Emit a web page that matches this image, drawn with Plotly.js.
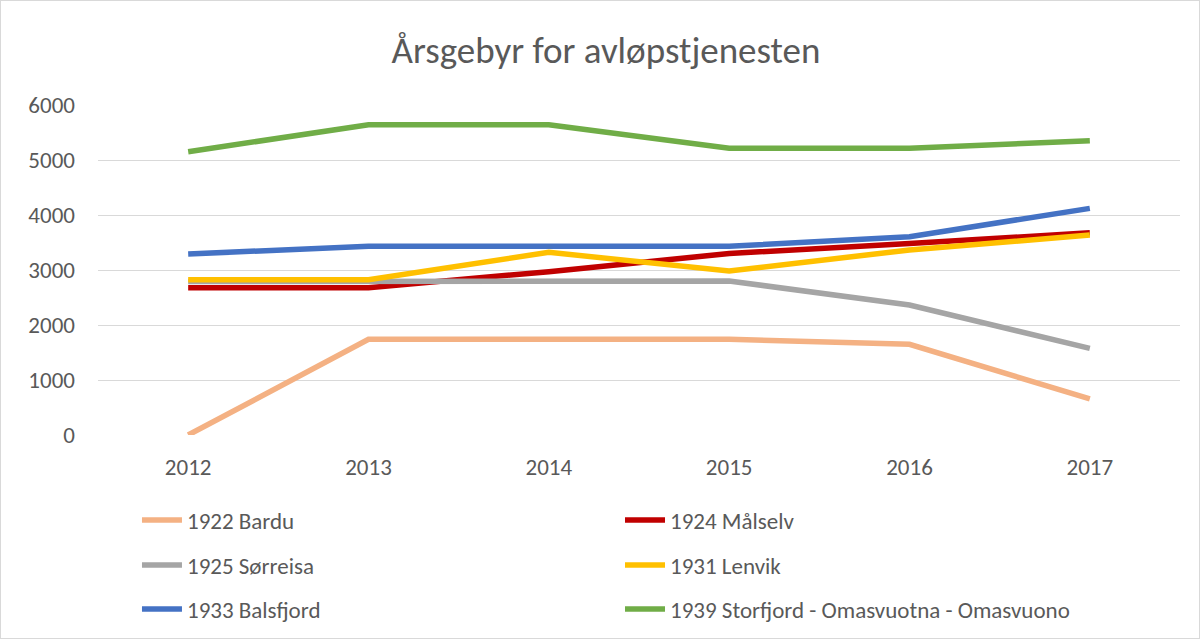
<!DOCTYPE html>
<html>
<head>
<meta charset="utf-8">
<script src="https://cdn.plot.ly/plotly-3.0.1.min.js"></script>
<style>
html,body{margin:0;padding:0;background:#fff;}
#chart{width:1200px;height:639px;box-sizing:border-box;border:1px solid #d9d9d9;}
</style>
</head>
<body>
<div id="chart"></div>
<script>
const years = ["2012","2013","2014","2015","2016","2017"];
const bardu     = [0, 1739, 1739, 1739, 1648, 655];
const malselv   = [2679, 2679, 2970, 3300, 3480, 3679];
const sorreisa  = [2790, 2800, 2800, 2800, 2364, 1576];
const lenvik    = [2824, 2824, 3321, 2982, 3364, 3636];
const balsfjord = [3291, 3430, 3430, 3430, 3606, 4121];
const storfjord = [5150, 5642, 5642, 5212, 5212, 5352];
const seriesNames = ["1922 Bardu","1924 Målselv","1925 Sørreisa","1931 Lenvik","1933 Balsfjord","1939 Storfjord - Omasvuotna - Omasvuono"];
const yTicks = [0,1000,2000,3000,4000,5000,6000];
const yTickText = ["0","1000","2000","3000","4000","5000","6000"];

const allData = [bardu, malselv, sorreisa, lenvik, balsfjord, storfjord];
const colors = ["#F4B183","#C00000","#A5A5A5","#FFC000","#4472C4","#70AD47"];
const legendIds = ["legend","legend2","legend3","legend4","legend5","legend6"];

const traces = allData.map((vals,i)=>({
  type:"scatter", mode:"lines", x:years, y:vals, name:seriesNames[i],
  line:{color:colors[i], width:5.5}, legend:legendIds[i], hoverinfo:"x+y+name"
}));

const font = "Calibri, Carlito, 'Open Sans', 'Noto Sans', sans-serif";
const H = 637;
const colX = [0.1135, 0.5167];
const rowY = [519, 564, 608];

const layout = {
  width:1198, height:H,
  margin:{l:97, r:19, t:104, b:203, autoexpand:false},
  paper_bgcolor:"#fff", plot_bgcolor:"#fff",
  title:{text:"Årsgebyr for avløpstjenesten", x:0.505, xanchor:"center",
    y:1-49/H, yanchor:"middle", yref:"container",
    font:{family:font, size:37, color:"#595959"}},
  font:{family:font, color:"#595959"},
  xaxis:{type:"category", range:[-0.5,5.5], showgrid:false, zeroline:false, showline:false,
    ticks:"", tickfont:{size:23,color:"#595959"}, ticklabelstandoff:16, fixedrange:true, automargin:false},
  yaxis:{range:[0,6000], tickvals:yTicks, ticktext:yTickText, showgrid:true, gridcolor:"#d9d9d9",
    gridwidth:1.2, zeroline:false, showline:false, ticks:"", tickfont:{size:23,color:"#595959"},
    ticklabelstandoff:22, fixedrange:true, automargin:false},
  showlegend:true
};

legendIds.forEach((id,i)=>{
  const col = i % 2, row = Math.floor(i/2);
  layout[id] = {orientation:"v", xref:"container", yref:"container",
    x:colX[col], xanchor:"left", y:1-rowY[row]/H, yanchor:"middle",
    font:{family:font,size:23,color:"#595959"}, bgcolor:"rgba(0,0,0,0)", itemwidth:40};
});

Plotly.newPlot("chart", traces, layout, {displayModeBar:false});
</script>
</body>
</html>
